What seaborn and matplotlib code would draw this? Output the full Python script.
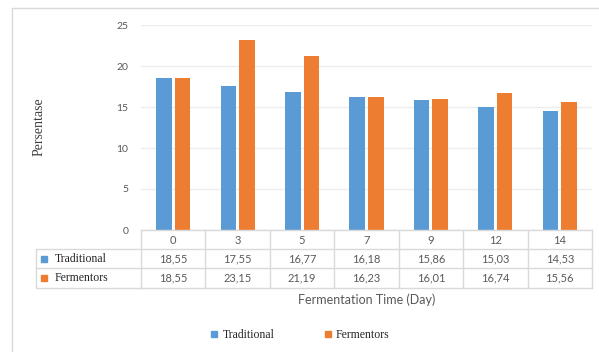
import matplotlib
matplotlib.use("Agg")
import matplotlib.pyplot as plt
import matplotlib.transforms as mtransforms
from matplotlib.lines import Line2D
import seaborn as sns
import pandas as pd

days = ["0", "3", "5", "7", "9", "12", "14"]
traditional = [18.55, 17.55, 16.77, 16.18, 15.86, 15.03, 14.53]
fermentors = [18.55, 23.15, 21.19, 16.23, 16.01, 16.74, 15.56]
series_names = ["Traditional", "Fermentors"]
value_labels = {
    "Traditional": ["18,55", "17,55", "16,77", "16,18", "15,86", "15,03", "14,53"],
    "Fermentors": ["18,55", "23,15", "21,19", "16,23", "16,01", "16,74", "15,56"],
}
y_ticks = [0, 5, 10, 15, 20, 25]

BLUE = "#5B9BD5"
ORANGE = "#ED7D31"
GRID = "#D9D9D9"
TXT = "#595959"
SANS = ["Lato", "DejaVu Sans"]
SERIF = ["Liberation Serif", "DejaVu Serif"]

df = pd.DataFrame({
    "day": days * 2,
    "value": traditional + fermentors,
    "series": [series_names[0]] * len(days) + [series_names[1]] * len(days),
})

sns.set_theme(style="white")
plt.rcParams["font.family"] = SANS

W, H = 599, 352
fig = plt.figure(figsize=(W / 100, H / 100), dpi=100)

def fx(px):
    return px / W

def fy(py):
    return 1 - py / H

ax = fig.add_axes([fx(141), fy(230), fx(592) - fx(141), fy(25) - fy(230)])
sns.barplot(data=df, x="day", y="value", hue="series", order=days,
            hue_order=series_names, palette=[BLUE, ORANGE], width=0.575,
            gap=0.16, ax=ax, legend=False, saturation=1, linewidth=0,
            errorbar=None)
ax.set_xlim(-0.5, len(days) - 0.5)
ax.set_ylim(0, 25)
ax.set_yticks(y_ticks)
ax.set_yticklabels([str(t) for t in y_ticks], fontsize=7.5, color=TXT)
ax.tick_params(axis="y", length=0, pad=9)
ax.set_xticks([])
ax.set_xlabel("")
ax.set_ylabel("")
ax.yaxis.grid(True, color="#EDEDED", linewidth=1)
ax.set_axisbelow(True)
for s in ["top", "right", "left"]:
    ax.spines[s].set_visible(False)
ax.spines["bottom"].set_color(GRID)
ax.spines["bottom"].set_linewidth(1)

# y label
fig.text(fx(39), fy(127), "Persentase", rotation=90, ha="center", va="center",
         fontsize=10, family=SERIF, color="#404040")

# data table
bt = mtransforms.blended_transform_factory(ax.transData, fig.transFigure)
n = len(days)
row_y = [230, 249, 268, 288]
for py in row_y[1:]:
    fig.add_artist(Line2D([fx(36), fx(141)], [fy(py), fy(py)], color=GRID, lw=1))
    fig.add_artist(Line2D([-0.5, n - 0.5], [fy(py), fy(py)], color=GRID, lw=1,
                          transform=bt))
fig.add_artist(Line2D([fx(36), fx(36)], [fy(249), fy(288)], color=GRID, lw=1))
for i in range(n + 1):
    fig.add_artist(Line2D([i - 0.5, i - 0.5], [fy(230), fy(288)], color=GRID,
                          lw=1, transform=bt))
for i, d in enumerate(days):
    fig.text(i, fy(240), d, transform=bt, ha="center", va="center",
             fontsize=8, color=TXT)
colors = [BLUE, ORANGE]
for r, name in enumerate(series_names):
    yc = fy((row_y[r + 1] + row_y[r + 2]) / 2)
    for i, lab in enumerate(value_labels[name]):
        fig.text(i, yc, lab, transform=bt, ha="center", va="center",
                 fontsize=8, color=TXT)
    fig.add_artist(Line2D([fx(44)], [yc], marker="s", markersize=5,
                          color=colors[r], linestyle="none"))
    fig.text(fx(55), yc, name, ha="left", va="center", fontsize=8.5,
             family=SERIF, color="#262626")

# x label
fig.text(0.5 * (fx(141) + fx(592)), fy(300), "Fermentation Time (Day)",
         ha="center", va="center", fontsize=9, color=TXT)

# legend
handles = [Line2D([0], [0], marker="s", markersize=5, color=c, linestyle="none")
           for c in colors]
leg = fig.legend(handles, series_names, loc="center", bbox_to_anchor=(fx(299), fy(335)),
                 ncol=2, frameon=False, handletextpad=0.2, columnspacing=4.0,
                 prop={"family": SERIF, "size": 8.5}, handlelength=1.0)
for t in leg.get_texts():
    t.set_color("#262626")

# chart border
fig.add_artist(Line2D([fx(12), 1], [fy(8), fy(8)], color=GRID, lw=1))
fig.add_artist(Line2D([fx(12), fx(12)], [fy(8), 0], color=GRID, lw=1))

fig.savefig("out.png", dpi=100, facecolor="white")
